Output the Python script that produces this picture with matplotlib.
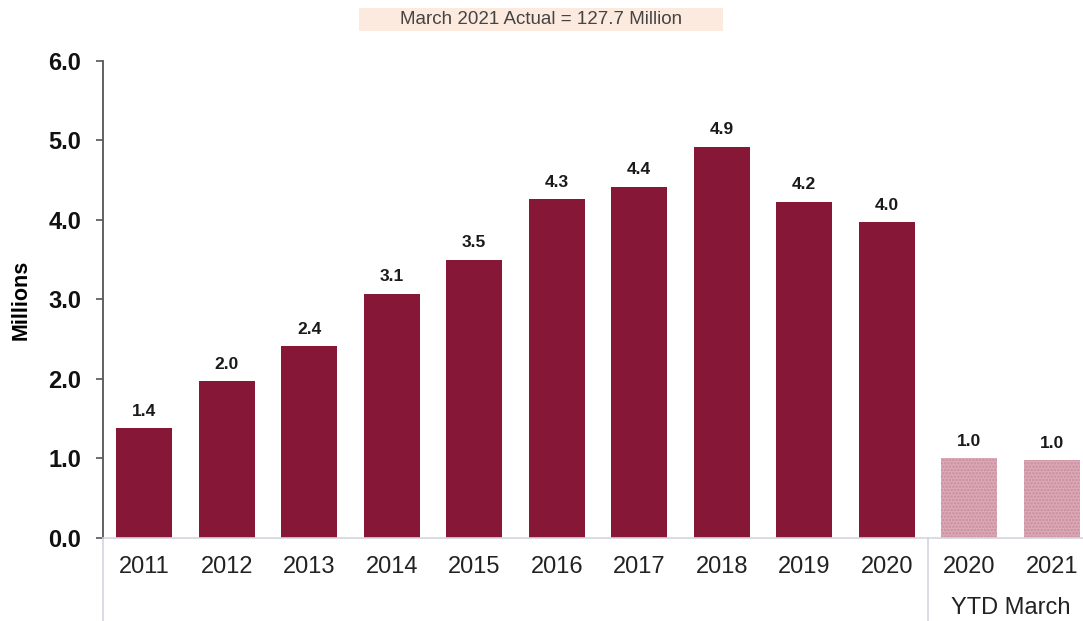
import matplotlib
matplotlib.use('Agg')
import matplotlib.pyplot as plt
from matplotlib.lines import Line2D
from matplotlib.patches import Rectangle

plt.rcParams['font.family'] = ['Liberation Sans', 'DejaVu Sans']
plt.rcParams['hatch.linewidth'] = 1.2

# annual totals (millions) plus the two year-to-date March figures
years = ['2011', '2012', '2013', '2014', '2015', '2016', '2017', '2018', '2019', '2020']
annual = [1.38, 1.97, 2.41, 3.07, 3.50, 4.26, 4.42, 4.92, 4.23, 3.97]
ytd_years = ['2020', '2021']
ytd = [1.00, 0.98]
note = 'March 2021 Actual = 127.7 Million'

bar_color = '#861736'
ytd_face = '#dcaab7'
ytd_hatch = '#c88c9c'

fig = plt.figure(figsize=(10.83, 6.21), dpi=100)
ax = fig.add_axes([0.0951, 0.1337, 0.9049, 0.7681])

labels = years + ytd_years
xs = list(range(len(labels)))
n = len(years)

ax.bar(xs[:n], annual, width=0.68, color=bar_color, linewidth=0)
ax.bar(xs[n:], ytd, width=0.68, facecolor=ytd_face, edgecolor=ytd_hatch,
       hatch='.....', linewidth=0)

for x, v in zip(xs, annual + ytd):
    ax.text(x, v + 0.12, f'{v:.1f}', ha='center', va='bottom',
            fontsize=12.5, fontweight='bold', color='#1a1a1a')

ax.set_xlim(-0.5, 11.38)
ax.set_ylim(0, 6)
ax.set_yticks([0, 1, 2, 3, 4, 5, 6])
ax.set_yticklabels([f'{t:.1f}' for t in range(7)])
ax.set_xticks(xs)
ax.set_xticklabels(labels)

for lab in ax.get_yticklabels():
    lab.set_fontweight('bold')
ax.tick_params(axis='y', labelsize=17, length=5, width=1.2, color='#555555',
               pad=10.5, labelcolor='#111111')
ax.tick_params(axis='x', labelsize=17, length=0, pad=13, labelcolor='#222222')

ax.spines['top'].set_visible(False)
ax.spines['right'].set_visible(False)
ax.spines['left'].set_color('#555555')
ax.spines['left'].set_linewidth(1.3)
ax.spines['bottom'].set_color('#d4d4de')
ax.spines['bottom'].set_linewidth(1.2)

ax.set_ylabel('Millions', fontsize=15.5, fontweight='bold')
ax.yaxis.set_label_coords(-0.0725, 0.5)

# light dividers below the axis: left edge and between annual / YTD groups
trans = ax.get_xaxis_transform()
for xpos in (-0.5, n - 0.5):
    ax.add_line(Line2D([xpos, xpos], [0, -0.18], transform=trans,
                       color='#d4d4de', linewidth=1.2, clip_on=False))

ax.text(10.5, -0.147, 'YTD March', transform=trans, ha='center', va='center',
        fontsize=17, color='#222222')

# note banner at the top
fig.patches.append(Rectangle((0.3315, 0.950), 0.336, 0.037,
                             transform=fig.transFigure, facecolor='#fdeadf',
                             edgecolor='none'))
fig.text(0.4995, 0.9685, note, ha='center', va='center', fontsize=13.5,
         color='#444444')

fig.savefig('out.png', dpi=100)
